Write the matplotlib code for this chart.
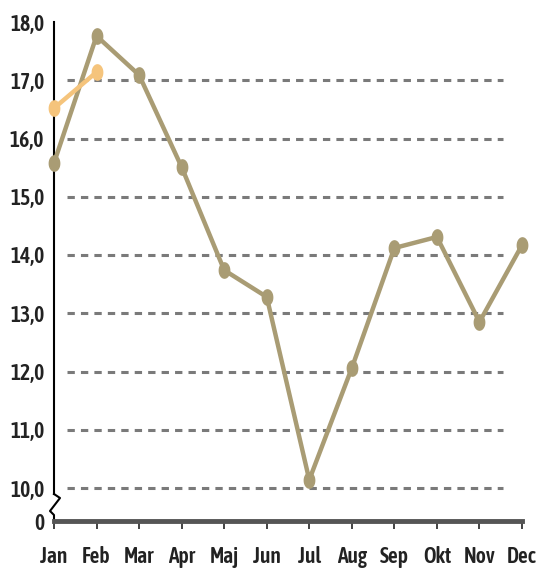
import matplotlib
matplotlib.use("Agg")
import matplotlib.pyplot as plt
from matplotlib.path import Path
import numpy as np

months = ["Jan", "Feb", "Mar", "Apr", "Maj", "Jun", "Jul", "Aug", "Sep", "Okt", "Nov", "Dec"]
series_main = [15.58, 17.76, 17.09, 15.51, 13.74, 13.28, 10.14, 12.06, 14.12, 14.31, 12.85, 14.17]
series_orange = [16.52, 17.14]
ytick_values = [0, 10, 11, 12, 13, 14, 15, 16, 17, 18]
ytick_labels = ["0", "10,0", "11,0", "12,0", "13,0", "14,0", "15,0", "16,0", "17,0", "18,0"]
grid_values = [10, 11, 12, 13, 14, 15, 16, 17]

GAP = 33 / 58.25

def fwd(v):
    v = np.asarray(v, dtype=float)
    return np.where(v >= 10, v - 10 + GAP, v * GAP / 10)

def inv(u):
    u = np.asarray(u, dtype=float)
    return np.where(u >= GAP, u + 10 - GAP, u * 10 / GAP)

plt.rcParams['font.family'] = ['Asap Condensed', 'DejaVu Sans']

# elliptical marker (taller than wide)
t = np.linspace(0, 2 * np.pi, 40)
ell = Path(np.column_stack([0.68 * np.cos(t), np.sin(t)]), closed=True)

W, H = 539, 570
fig = plt.figure(figsize=(W / 100, H / 100), dpi=100)
ax = fig.add_axes([54 / W, 49 / H, (522 - 54) / W, (548 - 49) / H])
ax.set_yscale('function', functions=(fwd, inv))
ax.set_xlim(0, 11)
ax.set_ylim(0, 18)

x = np.arange(len(months))
for g in grid_values:
    ax.plot([0.3, 10.55], [g, g], color='#7a7a7a', lw=2.2, ls=(0, (2.4, 2.0)), zorder=1,
            dash_capstyle='butt')

ax.plot(x, series_main, color='#a99c74', lw=3.2, marker=ell, ms=11, mfc='#a99c74', mec='#a99c74',
        zorder=3, clip_on=False)
ax.plot(x[:len(series_orange)], series_orange, color='#f5c47c', lw=3.2, marker=ell, ms=11,
        mfc='#f5c47c', mec='#f5c47c', zorder=4, clip_on=False)

ax.set_xticks(x)
ax.set_xticklabels(months)
ax.set_yticks(ytick_values)
ax.set_yticklabels(ytick_labels)
ax.minorticks_off()
for lab in ax.get_xticklabels() + ax.get_yticklabels():
    lab.set_fontsize(15.5)
    lab.set_fontweight('semibold')
    lab.set_color('#222222')
ax.tick_params(axis='x', direction='out', length=6, width=1.2, color='#222222', pad=12)
ax.tick_params(axis='y', length=0, pad=7)

for s in ['top', 'right', 'left']:
    ax.spines[s].set_visible(False)
ax.spines['bottom'].set_color('#555555')
ax.spines['bottom'].set_linewidth(3.5)

hpx = 548 - 49
def fy(p):
    return (521 - p) / hpx
ax.plot([0, 0], [1, fy(494)], transform=ax.transAxes, color='black', lw=1.5, clip_on=False)
zx = [0, 6 / 468, -4 / 468, 0, 0]
zy = [fy(494), fy(498), fy(511), fy(515), 0]
ax.plot(zx, zy, transform=ax.transAxes, color='black', lw=1.5, clip_on=False)

fig.savefig("out.png", dpi=100)
